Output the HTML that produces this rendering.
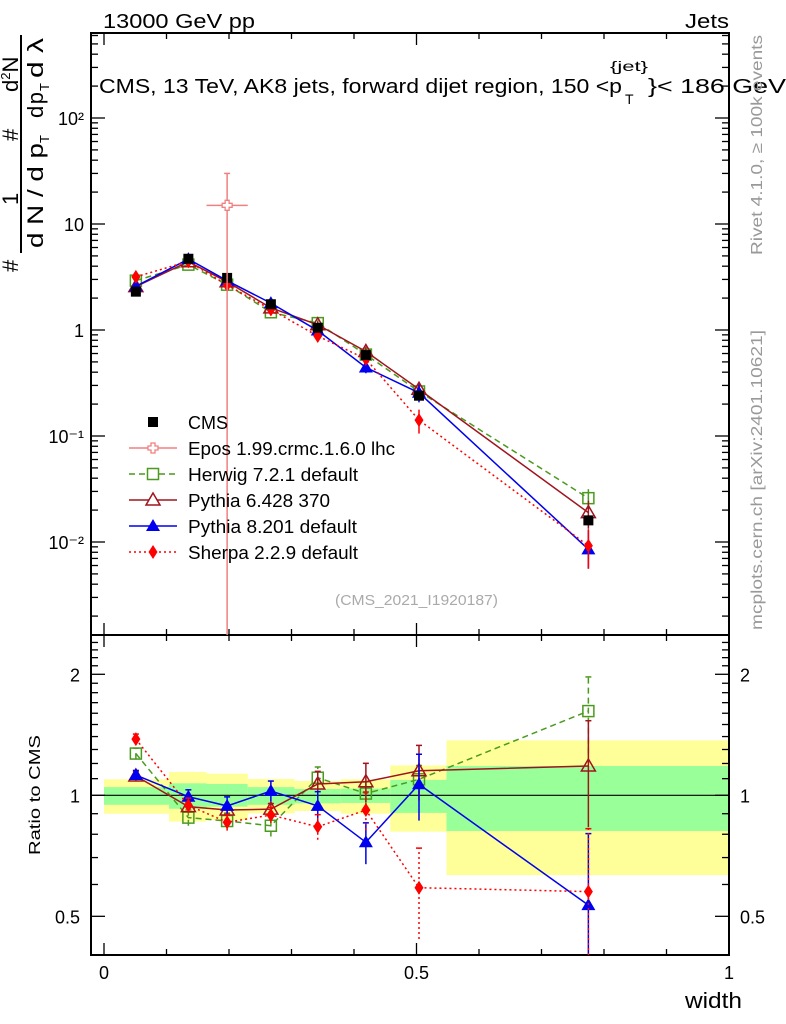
<!DOCTYPE html>
<html><head><meta charset="utf-8"><style>
html,body{margin:0;padding:0;background:#fff;}
svg{display:block;font-family:"Liberation Sans",sans-serif;}
</style></head><body>
<svg id="chart" width="786" height="1024" viewBox="0 0 786 1024" xmlns="http://www.w3.org/2000/svg">
<g id="bands"></g>
<g id="grid"></g>
<g id="series"></g>
<text x="103" y="28" font-size="20" textLength="152" lengthAdjust="spacingAndGlyphs">13000 GeV pp</text>
<text x="685" y="28" font-size="20" textLength="44" lengthAdjust="spacingAndGlyphs">Jets</text>
<g>
<text x="99" y="93" font-size="20" textLength="523" lengthAdjust="spacingAndGlyphs">CMS, 13 TeV, AK8 jets, forward dijet region, 150 &lt;p</text>
<text x="610" y="71" font-size="14" textLength="38" lengthAdjust="spacingAndGlyphs">{jet}</text>
<text x="625" y="104" font-size="14">T</text>
<text x="648" y="93" font-size="20" textLength="138" lengthAdjust="spacingAndGlyphs">}&lt; 186 GeV</text>
</g>
<text x="335" y="605" font-size="15" fill="#aaa" textLength="163" lengthAdjust="spacingAndGlyphs">(CMS_2021_I1920187)</text>
<g transform="translate(762,255) rotate(-90)"><text x="0" y="0" font-size="16" fill="#999" textLength="220" lengthAdjust="spacingAndGlyphs">Rivet 4.1.0, ≥ 100k events</text></g>
<g transform="translate(762,630) rotate(-90)"><text x="0" y="0" font-size="16" fill="#999" textLength="300" lengthAdjust="spacingAndGlyphs">mcplots.cern.ch [arXiv:2401.10621]</text></g>
<g transform="translate(40,855) rotate(-90)"><text x="0" y="0" font-size="16" textLength="120" lengthAdjust="spacingAndGlyphs">Ratio to CMS</text></g>
<text x="685" y="1008" font-size="22" textLength="57" lengthAdjust="spacingAndGlyphs">width</text>
<g font-size="22">
 <line x1="21" y1="35" x2="21" y2="253" stroke="#000" stroke-width="2"/>
 <g transform="translate(18,272) rotate(-90)"><text x="0" y="0">#</text></g>
 <g transform="translate(18,205) rotate(-90)"><text x="0" y="0">1</text></g>
 <g transform="translate(18,141) rotate(-90)"><text x="0" y="0">#</text></g>
 <g transform="translate(18,92) rotate(-90)"><text x="0" y="0">d<tspan font-size="13" dy="-8">2</tspan><tspan dy="8">N</tspan></text></g>
 <g transform="translate(43,248) rotate(-90)"><text x="0" y="0" textLength="105" lengthAdjust="spacingAndGlyphs">d N / d p</text></g>
 <g transform="translate(49,143) rotate(-90)"><text x="0" y="0" font-size="13">T</text></g>
 <g transform="translate(43,118) rotate(-90)"><text x="0" y="0" textLength="26">d p</text></g>
 <g transform="translate(49,91) rotate(-90)"><text x="0" y="0" font-size="13">T</text></g>
 <g transform="translate(43,78) rotate(-90)"><text x="0" y="0" textLength="40" lengthAdjust="spacingAndGlyphs">d λ</text></g>
</g>
<g id="legend"></g>
</svg>
<script>
const binCenters=[0.051,0.135,0.197,0.267,0.342,0.419,0.504,0.775];
const binLo=[0,0.104,0.164,0.230,0.305,0.379,0.458,0.548];
const binHi=[0.104,0.164,0.230,0.305,0.379,0.458,0.548,1.0];
const cmsValues=[2.3,4.7,3.1,1.75,1.05,0.58,0.24,0.016];
const greenLo=[0.947,0.926,0.937,0.947,0.955,0.957,0.904,0.815];
const greenHi=[1.048,1.071,1.067,1.048,1.037,1.039,1.092,1.183];
const yellowLo=[0.900,0.860,0.868,0.902,0.914,0.900,0.812,0.633];
const yellowHi=[1.096,1.143,1.132,1.098,1.085,1.096,1.187,1.370];
const herwigRatio=[1.27,0.88,0.863,0.84,1.106,1.01,1.096,1.62];
const herwigErr=[0.04,0.04,0.04,0.05,0.07,0.07,0.09,0.35];
const pythia6Ratio=[1.117,0.937,0.919,0.924,1.067,1.081,1.151,1.183];
const pythia6Err=[0.03,0.03,0.03,0.03,0.08,0.12,0.18,0.35];
const pythia8Ratio=[1.123,0.992,0.941,1.025,0.941,0.764,1.065,0.533];
const pythia8Err=[0.03,0.04,0.05,0.06,0.08,0.09,0.20,0.27];
const sherpaRatio=[1.38,0.944,0.857,0.893,0.835,0.919,0.589,0.576];
const sherpaErr=[0.04,0.04,0.04,0.04,0.06,0.10,0.15,0.25];
const eposX=[0.197];const eposXLo=[0.164];const eposXHi=[0.230];
const eposValue=[15];const eposErrHi=[30];const eposErrLo=[0.0001];
const mainTickLabels=["10²","10","1","10⁻¹","10⁻²"];
const mainTickValues=[100,10,1,0.1,0.01];
const ratioTickValues=[2,1,0.5];
const xTickValues=[0,0.5,1];

const NS="http://www.w3.org/2000/svg";
const L=91,R=729,T=33,MB=635,RB=955;
const X=v=>104+625*v;
const Y=v=>330-106*Math.log10(v);
const YR=r=>795.3-402*Math.log10(r);
function el(tag,attrs,parent){const e=document.createElementNS(NS,tag);for(const k in attrs)e.setAttribute(k,attrs[k]);parent.appendChild(e);return e;}
const bands=document.getElementById('bands'),grid=document.getElementById('grid'),series=document.getElementById('series'),legend=document.getElementById('legend');

for(let i=0;i<binCenters.length;i++){
 const y=el('rect',{x:X(binLo[i]),y:YR(yellowHi[i]),width:X(binHi[i])-X(binLo[i]),height:YR(yellowLo[i])-YR(yellowHi[i]),fill:'#ffff99'},bands);
 
 
 const g=el('rect',{x:X(binLo[i]),y:YR(greenHi[i]),width:X(binHi[i])-X(binLo[i]),height:YR(greenLo[i])-YR(greenHi[i]),fill:'#99ff99'},bands);
 
 
}
el('rect',{x:L,y:T,width:R-L,height:MB-T,fill:'none',stroke:'#000','stroke-width':2},grid);
el('rect',{x:L,y:MB,width:R-L,height:RB-MB,fill:'none',stroke:'#000','stroke-width':2},grid);
el('line',{x1:L,x2:R,y1:YR(1),y2:YR(1),stroke:'#000','stroke-width':1.2},grid);
for(let k=0;k<=10;k++){
 const v=k/10,x=X(v),len=(k%5==0)?12:6;
 [[RB,-1],[MB,1],[MB,-1],[T,1]].forEach(([yy,d])=>el('line',{x1:x,x2:x,y1:yy,y2:yy+d*len,stroke:'#000','stroke-width':1.3},grid));
}
xTickValues.forEach(v=>{const t=el('text',{x:X(v),y:979,'font-size':18,'text-anchor':'middle'},grid);t.textContent=String(v);
 
 });
for(let e=-3;e<=2;e++)for(let m=1;m<10;m++){
 const v=m*Math.pow(10,e),y=Y(v);if(y<T||y>MB)continue;const len=m==1?14:7;
 el('line',{x1:L,x2:L+len,y1:y,y2:y,stroke:'#000','stroke-width':1.3},grid);
 el('line',{x1:R,x2:R-len,y1:y,y2:y,stroke:'#000','stroke-width':1.3},grid);
}
mainTickValues.forEach((v,i)=>{const t=el('text',{x:84,y:Y(v)+7,'font-size':18,'text-anchor':'end'},grid);t.textContent=mainTickLabels[i];
 
 });
for(let r=0.4;r<=2.51;r+=0.1){const y=YR(r);if(y<MB||y>RB)continue;const maj=[0.5,1,2].some(q=>Math.abs(q-r)<1e-6);const len=maj?14:7;
 el('line',{x1:L,x2:L+len,y1:y,y2:y,stroke:'#000','stroke-width':1.3},grid);
 el('line',{x1:R,x2:R-len,y1:y,y2:y,stroke:'#000','stroke-width':1.3},grid);}
ratioTickValues.forEach(v=>{[[80,'end'],[740,'start']].forEach(([x,a])=>{const t=el('text',{x:x,y:YR(v)+7,'font-size':18,'text-anchor':a},grid);t.textContent=String(v);
 
 });});

function marker(type,x,y,color,parent){
 if(type=='sq') return el('rect',{x:x-5,y:y-5,width:10,height:10,fill:'#000'},parent);
 if(type=='osq') return el('rect',{x:x-5.5,y:y-5.5,width:11,height:11,fill:'none',stroke:color,'stroke-width':1.5},parent);
 if(type=='otri') return el('path',{d:`M${x},${y-7}L${x+7},${y+5}L${x-7},${y+5}Z`,fill:'none',stroke:color,'stroke-width':1.5},parent);
 if(type=='tri') return el('path',{d:`M${x},${y-7}L${x+7},${y+5}L${x-7},${y+5}Z`,fill:color},parent);
 if(type=='dia') return el('path',{d:`M${x},${y-7}L${x+4.5},${y}L${x},${y+7}L${x-4.5},${y}Z`,fill:color},parent);
 if(type=='cross') return el('path',{d:`M${x-2},${y-5}h4v3h3v4h-3v3h-4v-3h-3v-4h3z`,fill:'none',stroke:color,'stroke-width':1.3},parent);
}
const models=[
 {name:'herwig',ratio:herwigRatio,err:herwigErr,color:'#4a9a1e',dash:'6,4',mk:'osq'},
 {name:'pythia6',ratio:pythia6Ratio,err:pythia6Err,color:'#a0141e',dash:'',mk:'otri'},
 {name:'pythia8',ratio:pythia8Ratio,err:pythia8Err,color:'#0000ee',dash:'',mk:'tri'},
 {name:'sherpa',ratio:sherpaRatio,err:sherpaErr,color:'#ff0000',dash:'2,3',mk:'dia'},
];
models.forEach(m=>{
 const g=el('g',{},series);
 
 
 const mainPts=[],ratPts=[];
 binCenters.forEach((c,i)=>{
  const v=cmsValues[i]*m.ratio[i];
  mainPts.push(X(c)+','+Y(v));ratPts.push(X(c)+','+YR(m.ratio[i]));
 });
 el('polyline',{points:mainPts.join(' '),fill:'none',stroke:m.color,'stroke-width':1.5,'stroke-dasharray':m.dash},g);
 el('polyline',{points:ratPts.join(' '),fill:'none',stroke:m.color,'stroke-width':1.5,'stroke-dasharray':m.dash},g);
 binCenters.forEach((c,i)=>{
  const r=m.ratio[i],lo=Math.max(r-m.err[i],0.35),hi=r+m.err[i];
  el('line',{x1:X(c),x2:X(c),y1:Math.min(YR(lo),RB),y2:YR(hi),stroke:m.color,'stroke-width':1.5,'stroke-dasharray':m.dash},g);
  el('line',{x1:X(c)-3,x2:X(c)+3,y1:YR(hi),y2:YR(hi),stroke:m.color,'stroke-width':1.5},g);
  const v=cmsValues[i]*r;
  const vh=cmsValues[i]*hi, vl=cmsValues[i]*lo;
  el('line',{x1:X(c),x2:X(c),y1:Y(vl),y2:Y(vh),stroke:m.color,'stroke-width':1.5},g);
  const mk1=marker(m.mk,X(c),Y(v),m.color,g);
  
  
  const mk2=marker(m.mk,X(c),YR(r),m.color,g);
  
  
 });
});
binCenters.forEach((c,i)=>{
 const m=marker('sq',X(c),Y(cmsValues[i]),'#000',series);
 
 
});
eposX.forEach((c,i)=>{
 const g=el('g',{},series);
 
 
 const y=Y(eposValue[i]);
 el('line',{x1:X(c),x2:X(c),y1:Y(eposErrHi[i]),y2:MB,stroke:'#f08080','stroke-width':1.5},g);
 el('line',{x1:X(eposXLo[i]),x2:X(eposXHi[i]),y1:y,y2:y,stroke:'#f08080','stroke-width':1.5},g);
 el('line',{x1:X(c)-3,x2:X(c)+3,y1:Y(eposErrHi[i]),y2:Y(eposErrHi[i]),stroke:'#f08080','stroke-width':1.5},g);
 marker('cross',X(c),y,'#f08080',g).setAttribute('fill','#fff');
});
const legNames=['CMS','Epos 1.99.crmc.1.6.0 lhc','Herwig 7.2.1 default','Pythia 6.428 370','Pythia 8.201 default','Sherpa 2.2.9 default'];
const legWidths=[40,207,170,142,169,170];
const legColors=['#000','#f08080','#4a9a1e','#a0141e','#0000ee','#ff0000'];
const legMk=['sq','cross','osq','otri','tri','dia'];
const legDash=['','','6,4','','','2,3'];
legNames.forEach((n,i)=>{
 const y=422+26*i;
 const g=el('g',{},legend);
 
 
 if(i>0) el('line',{x1:129,x2:177,y1:y,y2:y,stroke:legColors[i],'stroke-width':1.5,'stroke-dasharray':legDash[i]},g);
 const mk=marker(legMk[i],153,y,legColors[i],g);
 if(legMk[i]=='cross'||legMk[i]=='osq'||legMk[i]=='otri') mk.setAttribute('fill','#fff');
 const t=el('text',{x:188,y:y+7,'font-size':18,textLength:legWidths[i],lengthAdjust:'spacingAndGlyphs'},g);t.textContent=n;
});
</script>
</body></html>
